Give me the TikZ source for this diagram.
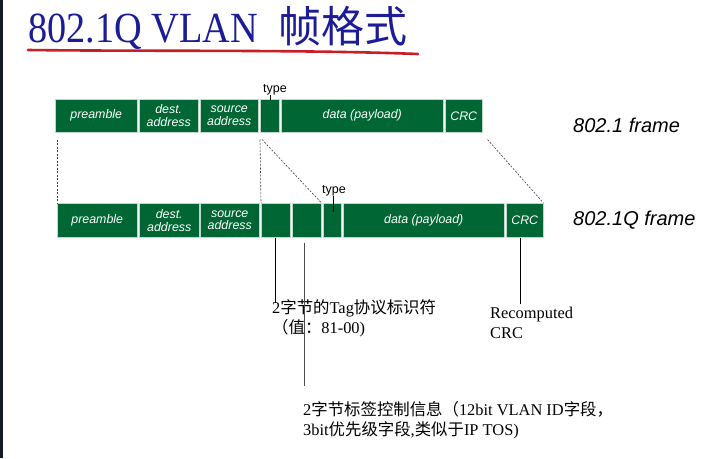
\documentclass[tikz,border=0pt]{standalone}
\usepackage{fontspec}
\setmainfont{Liberation Serif}
\newfontfamily\cjk{Noto Sans CJK SC}
\newfontfamily\arialfont{Liberation Sans}
\newfontfamily\titlelatin[FakeStretch=0.89]{Liberation Serif}
\definecolor{fgreen}{RGB}{0,102,51}
\definecolor{fedge}{RGB}{190,215,200}
\definecolor{titleblue}{RGB}{28,28,150}
\definecolor{penred}{RGB}{200,30,40}
\definecolor{stripdark}{RGB}{20,24,40}
\newcommand{\zh}[1]{{\cjk #1}}

\begin{document}
\begin{tikzpicture}[x=1pt,y=-1pt,
  fld/.style={fill=fgreen, draw=fedge, line width=0.5pt, inner sep=0pt,
    text=white, anchor=north west, align=center,
    font=\arialfont\itshape\fontsize{12.4}{12.8}\selectfont},
  row1/.style={fld, minimum height=33pt},
  row2/.style={fld, minimum height=34pt},
  typelbl/.style={anchor=base, inner sep=0pt,
    font=\arialfont\fontsize{12.5}{13}\selectfont},
  framelbl/.style={anchor=base west, inner sep=0pt,
    font=\arialfont\itshape\fontsize{20}{22}\selectfont},
  note/.style={anchor=base west, inner sep=0pt, align=left,
    font=\fontsize{16.4}{20}\selectfont},
  guide/.style={dash pattern=on 2pt off 1.5pt, line width=0.6pt, black!75},
  pointer/.style={line width=0.8pt, black}]

\useasboundingbox (0,0) rectangle (711,458);
\fill[white] (0,0) rectangle (711,458);
\fill[stripdark] (0,0) rectangle (3,458);

% title with hand-drawn underline
\node[anchor=base west, inner sep=0pt, text=titleblue] (title) at (28,42)
  {\fontsize{43}{45}\selectfont\titlelatin 802.1Q VLAN\hspace{21pt}\cjk 帧格式};
\draw[penred, line width=2.6pt, line cap=round]
  (28,50) .. controls (150,51.5) and (300,49.5) .. (418,54);

% 802.1 frame
\node[row1, minimum width=82pt] (p1) at (55,99) {preamble};
\node[row1, minimum width=59pt] (d1) at (139,99) {dest.\\address};
\node[row1, minimum width=58pt] (s1) at (200,99) {source\\address};
\node[row1, minimum width=19pt] (t1) at (260,99) {};
\node[row1, minimum width=162pt] (da1) at (281,99) {data (payload)};
\node[row1, minimum width=37pt] (c1) at (445,99) {CRC};
\node[typelbl] (tl1) at (275,92) {type};
\draw[line width=0.8pt] (t1.north |- tl1.south) ++(0.5,0) -- ([xshift=0.5pt,yshift=-1pt]t1.north);
\node[framelbl] (f1) at (573,132) {802.1 frame};

% 802.1Q frame
\node[row2, minimum width=80pt] (p2) at (57,203) {preamble};
\node[row2, minimum width=60pt] (d2) at (139,203) {dest.\\address};
\node[row2, minimum width=59pt] (s2) at (200,203) {source\\address};
\node[row2, minimum width=29pt] (g1) at (261,203) {};
\node[row2, minimum width=29pt] (g2) at (292,203) {};
\node[row2, minimum width=18pt] (t2) at (323,203) {};
\node[row2, minimum width=161pt] (da2) at (343,203) {data (payload)};
\node[row2, minimum width=37pt] (c2) at (506,203) {CRC};
\node[typelbl] (tl2) at (334,193) {type};
\draw[line width=0.8pt] (t2.north |- tl2.south) ++(1,0) -- ([xshift=1pt,yshift=-9pt]t2.north);
\node[framelbl] (f2) at (573,225) {802.1Q frame};

% guides between the two frames
\draw[guide] ([yshift=-7pt]p1.south -| p2.west) -- (p2.north west);
\draw[guide] ([yshift=-7pt]t1.south west) -- (g1.north west);
\draw[guide] ([xshift=2pt,yshift=-7pt]t1.south west) -- (g2.north east);
\draw[guide] ([xshift=5pt,yshift=-7pt]c1.south east) -- (c2.north east);

% notes (anchored at the baseline of their last line)
\node[note] (tpid) at (272,333)
  {2\zh{字节的}Tag\zh{协议标识符}\\\zh{（值：}81-00)};
\node[note] (crcnote) at (490,338) {Recomputed\\CRC};
\node[note] (tci) at (303,435)
  {2\zh{字节标签控制信息（}12bit VLAN ID\zh{字段，}\\3bit\zh{优先级字段}{,}\zh{类似于}IP TOS)};

\draw[pointer] (g1.south) -- ++(0,65);
\draw[pointer, black!70] ([xshift=-2.5pt,yshift=-5pt]g2.south) -- ++(0,143);
\draw[pointer] ([xshift=-4pt]c2.south) -- ++(0,66);
\end{tikzpicture}
\end{document}
